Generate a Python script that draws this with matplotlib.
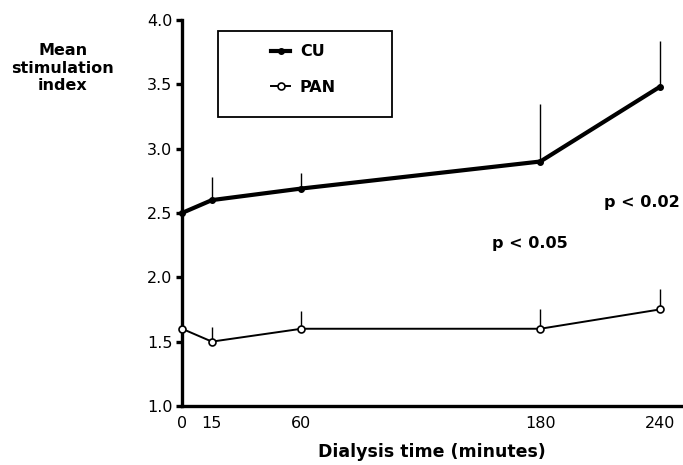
import matplotlib
matplotlib.use("Agg")
import numpy as np
import matplotlib.pyplot as plt
from matplotlib.patches import Rectangle

# Data
times = [0, 15, 60, 180, 240]
cu_mean = [2.50, 2.60, 2.69, 2.90, 3.48]
cu_err = [0.0, 0.18, 0.12, 0.45, 0.36]
pan_mean = [1.60, 1.50, 1.60, 1.60, 1.75]
pan_err = [0.0, 0.11, 0.14, 0.15, 0.16]
x_ticks = [0, 15, 60, 180, 240]
y_ticks = [1.0, 1.5, 2.0, 2.5, 3.0, 3.5, 4.0]

plt.rcParams['font.family'] = ['DejaVu Sans']

fig = plt.figure(figsize=(6.83, 4.65), dpi=100)
ax = fig.add_axes([0.2665, 0.127, 0.733, 0.830])

zeros = np.zeros(len(times))

# upper-only error bars
ax.errorbar(times, cu_mean, yerr=[zeros, cu_err], fmt='none',
            ecolor='black', elinewidth=1.0, capsize=0, zorder=2)
ax.errorbar(times, pan_mean, yerr=[zeros, pan_err], fmt='none',
            ecolor='black', elinewidth=1.0, capsize=0, zorder=2)

ax.plot(times, cu_mean, color='black', lw=3.0, marker='o', markersize=4,
        markerfacecolor='black', label='CU', zorder=3, clip_on=False)
ax.plot(times, pan_mean, color='black', lw=1.4, marker='o', markersize=5,
        markerfacecolor='white', markeredgewidth=1.2, label='PAN', zorder=3,
        clip_on=False)

ax.set_xlim(0, 251.5)
ax.set_ylim(1.0, 4.0)
ax.set_xticks(x_ticks)
ax.set_yticks(y_ticks)
ax.set_yticklabels([f"{v:.1f}" for v in y_ticks])

for s in ['top', 'right']:
    ax.spines[s].set_visible(False)
for s in ['left', 'bottom']:
    ax.spines[s].set_linewidth(2.4)

ax.tick_params(axis='y', direction='out', length=4, width=2.4, labelsize=11.5, pad=3)
ax.tick_params(axis='x', length=0, labelsize=11.5, pad=7)

ax.set_xlabel('Dialysis time (minutes)', fontsize=12.5, fontweight='bold', labelpad=9)
fig.text(0.092, 0.853, 'Mean\nstimulation\nindex', ha='center', va='center',
         fontsize=11.5, fontweight='bold', linespacing=1.2)

# p-value annotations
ax.text(0.695, 0.422, 'p < 0.05', transform=ax.transAxes, fontsize=11.5,
        fontweight='bold', ha='center', va='center')
ax.text(0.994, 0.526, 'p < 0.02', transform=ax.transAxes, fontsize=11.5,
        fontweight='bold', ha='right', va='center')

# legend frame drawn separately so the box can be wider than its entries
ax.add_patch(Rectangle((0.072, 0.749), 0.347, 0.222, transform=ax.transAxes,
                       fill=False, edgecolor='black', lw=1.3, zorder=4))
ax.legend(loc='upper left', bbox_to_anchor=(0.178, 0.937), frameon=False,
          handlelength=1.2, borderpad=0, labelspacing=1.3, handletextpad=0.6,
          borderaxespad=0, prop={'weight': 'bold', 'size': 11.5})

fig.savefig('out.png', dpi=100)
